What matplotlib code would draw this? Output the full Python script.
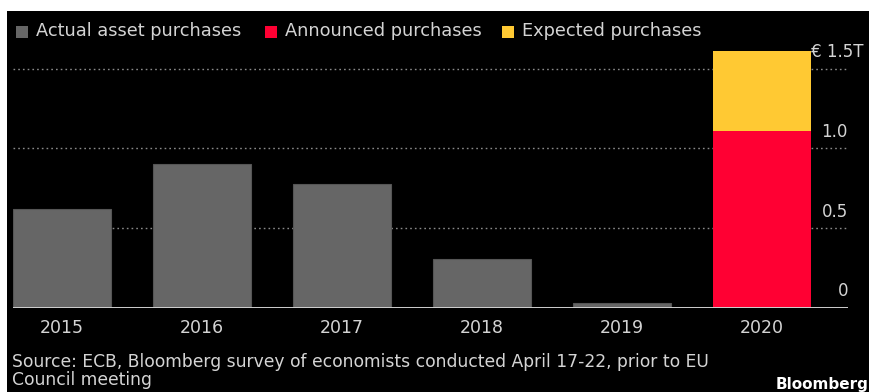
import numpy as np
import matplotlib
matplotlib.use("Agg")
import matplotlib.pyplot as plt
from matplotlib.patches import Rectangle

years = ["2015", "2016", "2017", "2018", "2019", "2020"]
actual = [0.62, 0.90, 0.78, 0.31, 0.03, 0.0]
announced = [0.0, 0.0, 0.0, 0.0, 0.0, 1.11]
expected = [0.0, 0.0, 0.0, 0.0, 0.0, 0.50]
ytick_vals = [0.0, 0.5, 1.0, 1.5]
ytick_labels = ["0", "0.5", "1.0", "€ 1.5T"]
legend_labels = ["Actual asset purchases", "Announced purchases", "Expected purchases"]
source_text = ("Source: ECB, Bloomberg survey of economists conducted April 17-22, prior to EU\n"
               "Council meeting")

GRAY = "#666666"
RED = "#ff0033"
YELLOW = "#ffc933"
TXT = "#d4d4d4"
FONT = "DejaVu Sans"

W, H = 869, 392
fig = plt.figure(figsize=(W / 100, H / 100), dpi=100, facecolor="white")

# black panel behind everything
bg = fig.add_axes([7 / W, 0, 1 - 7 / W, (H - 11) / H], zorder=-10)
bg.set_facecolor("black")
bg.set_xticks([])
bg.set_yticks([])
for s in bg.spines.values():
    s.set_visible(False)

ax = fig.add_axes([13 / W, (H - 308) / H, (848 - 13) / W, (308 - 40) / H], zorder=1)
ax.set_facecolor("none")
x = np.arange(len(years))
ax.set_xlim(-0.35, 5.614)
ax.set_ylim(0, 1.68)

ax.bar(x, actual, width=0.7, color=GRAY, edgecolor="#555555", linewidth=0.8, zorder=3)
ax.bar(x, announced, width=0.7, color=RED, zorder=3)
ax.bar(x, expected, bottom=announced, width=0.7, color=YELLOW, zorder=3)

for v in ytick_vals[1:]:
    ax.axhline(v, color="#8a8a8a", linestyle=(0, (1.2, 2.2)), linewidth=1.0, zorder=1)
ax.axhline(0, color="#cfcfcf", linewidth=1.4, zorder=4)

for s in ax.spines.values():
    s.set_visible(False)
ax.set_yticks([])
ax.set_xticks(x)
ax.set_xticklabels(years, fontsize=12.5, color=TXT, family=FONT)
ax.tick_params(axis="x", length=0, pad=8)

for v, lab in zip(ytick_vals, ytick_labels):
    ax.annotate(lab, xy=(1.0, v), xycoords=("axes fraction", "data"),
                xytext=(0 if lab != ytick_labels[-1] else 11, 12), textcoords="offset points",
                ha="right", va="center", fontsize=12, color=TXT, family=FONT,
                annotation_clip=False, zorder=5)

# legend row
colors = [GRAY, RED, YELLOW]
lx = [16, 265, 502]
for c, xx, lab in zip(colors, lx, legend_labels):
    fig.patches.append(Rectangle((xx / W, (H - 38) / H), 12 / W, 12 / H,
                                 transform=fig.transFigure, facecolor=c,
                                 edgecolor="none", zorder=5))
    fig.text((xx + 20) / W, (H - 31) / H, lab, fontsize=12.8, color=TXT,
             family=FONT, ha="left", va="center")

fig.text(12 / W, (H - 353) / H, source_text, fontsize=12.3, color=TXT,
         family=FONT, ha="left", va="top", linespacing=1.02)
fig.text(776 / W, (H - 385) / H, "Bloomberg", fontsize=11, color="white",
         family=FONT, weight="bold", ha="left", va="center")

fig.savefig("out.png", dpi=100, facecolor="white")
